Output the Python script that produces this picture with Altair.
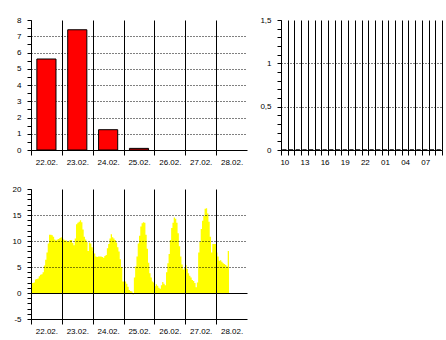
import json
import altair as alt
import pandas as pd

# ---------------- data ----------------
days = ["22.02.", "23.02.", "24.02.", "25.02.", "26.02.", "27.02.", "28.02."]
rain_daily = [5.6, 7.4, 1.25, 0.1, 0.0, 0.0, 0.0]

hours = ["10", "11", "12", "13", "14", "15", "16", "17", "18", "19", "20", "21",
         "22", "23", "00", "01", "02", "03", "04", "05", "06", "07", "08", "09"]
rain_hourly = [0, 0, 0, 0, 0, 0, 0, 0, 0, 0, 0, 0,
               0, 0, 0, 0, 0, 0, 0, 0, 0, 0, 0, 0]

temp_22 = [1.9, 1.9, 2.0, 2.6, 2.7, 2.8, 3.2, 3.5, 3.6, 4.0, 5.3, 6.4,
           7.8, 9.5, 11.2, 11.2, 11.1, 10.8, 10.3, 10.1, 10.3, 10.4, 10.6, 10.7]
temp_23 = [10.6, 10.3, 10.1, 10.1, 9.9, 9.9, 10.2, 10.2, 9.6, 9.2, 10.5, 13.2,
           13.5, 13.7, 14.0, 13.6, 12.2, 10.8, 10.3, 9.8, 8.1, 9.7, 9.5, 8.8]
temp_24 = [8.1, 7.6, 7.0, 6.9, 7.0, 7.0, 7.0, 6.9, 6.8, 7.1, 7.3, 8.6,
           9.4, 10.5, 11.3, 10.7, 10.5, 10.2, 9.7, 8.8, 8.0, 6.5, 5.0, 2.2]
temp_25 = [2.2, 2.2, 1.8, 1.2, 0.6, 0.4, 0.3, -0.3, 3.0, 5.1, 7.0, 9.5,
           11.0, 12.8, 13.4, 13.6, 13.5, 11.2, 8.5, 5.8, 3.8, 3.0, 2.2, 2.0]
temp_26 = [1.3, 1.7, 1.4, 1.0, 0.8, 1.5, 2.1, 1.8, 1.5, 4.0, 5.7, 7.5,
           10.2, 12.5, 13.5, 14.5, 14.3, 13.5, 11.5, 9.0, 7.0, 5.5, 4.5, 4.8]
temp_27 = [5.4, 4.6, 3.8, 3.3, 3.0, 2.5, 2.3, 1.9, 1.1, 2.0, 7.8, 9.8,
           12.3, 13.9, 14.8, 16.2, 16.3, 15.3, 13.7, 10.8, 7.8, 9.4, 9.4, 9.4]
temp_28 = [7.8, 7.0, 6.2, 6.3, 6.0, 5.7, 5.6, 5.4, 5.1, 8.1]

hourly_y_label_vals = [0, 0.5, 1, 1.5]
hourly_y_label_text = ["0", "0,5", "1", "1,5"]

# ---------------- layout / style ----------------
FONT = "Liberation Sans"
FS = 8
W_MAIN, H = 216, 130
W_HOUR = 161
DAY_PX = W_MAIN / 7
HOUR_PX = W_HOUR / 24
BAR_W = 0.62


def x_axis(values, label_expr, offset, zindex=0):
    return alt.Axis(values=values, labelExpr=label_expr, labelOffset=offset,
                    title=None, grid=True, gridColor="black", gridWidth=1,
                    tickSize=5, labelPadding=3, labelFlush=False,
                    labelOverlap=False, domainColor="black", tickColor="black",
                    zindex=zindex)


def y_axis(values, label_expr, grid_test, zindex=0, solid_test="false"):
    return alt.Axis(values=values, labelExpr=label_expr, title=None,
                    grid=True, gridColor="black", gridWidth=1,
                    gridDash={"condition": {"test": solid_test, "value": []}, "value": [1, 2]},
                    gridOpacity={"condition": {"test": grid_test, "value": 1}, "value": 0},
                    tickSize=4, labelPadding=6, labelOverlap=False,
                    domainColor="black", tickColor="black", zindex=zindex)


# ---------------- top-left: daily rain ----------------
df_day = pd.DataFrame({"i": list(range(len(days))), "day": days, "mm": rain_daily})
tl = alt.Chart(df_day).transform_filter("datum.mm > 0").transform_calculate(
    x0=f"datum.i + {(1 - BAR_W) / 2}", x1=f"datum.i + {(1 + BAR_W) / 2}"
).mark_rect(color="#ff0000", stroke="#000000", strokeWidth=1).encode(
    x=alt.X("x0:Q", scale=alt.Scale(domain=[0, 7], nice=False, zero=False),
            axis=x_axis(list(range(7)), f"{json.dumps(days)}[datum.value]", DAY_PX / 2)),
    x2="x1:Q",
    y=alt.Y("mm:Q", scale=alt.Scale(domain=[0, 8], nice=False),
            axis=y_axis([i * 0.5 for i in range(17)],
                        "datum.value % 1 === 0 ? datum.value : ''",
                        "datum.value % 1 === 0 && datum.value > 0 && datum.value < 8")),
    y2=alt.datum(0),
).properties(width=W_MAIN, height=H)

# ---------------- top-right: hourly rain ----------------
df_hour = pd.DataFrame({"i": list(range(24)), "hour": hours, "mm": rain_hourly})
lab_expr_h = f"(datum.value % 3 === 0 && datum.value < 24) ? {json.dumps(hours)}[datum.value] : ''"
ylab_map = " : ".join(
    f"datum.value === {v} ? '{t}'" for v, t in zip(hourly_y_label_vals, hourly_y_label_text)
) + " : ''"
tr = alt.Chart(df_hour).transform_calculate(
    x0=f"datum.i + {(1 - BAR_W) / 2}", x1=f"datum.i + {(1 + BAR_W) / 2}"
).mark_rect(color="#ff0000", stroke="#000000", strokeWidth=1).encode(
    x=alt.X("x0:Q", scale=alt.Scale(domain=[0, 24], nice=False, zero=False),
            axis=x_axis(list(range(25)), lab_expr_h, HOUR_PX / 2)),
    x2="x1:Q",
    y=alt.Y("mm:Q", scale=alt.Scale(domain=[0, 1.5], nice=False),
            axis=y_axis([round(i * 0.1, 1) for i in range(16)], ylab_map,
                        "datum.value === 0.5 || datum.value === 1")),
    y2=alt.datum(0),
).properties(width=W_HOUR, height=H)

# ---------------- bottom: temperature ----------------
temps = temp_22 + temp_23 + temp_24 + temp_25 + temp_26 + temp_27 + temp_28
df_t = pd.DataFrame({"h": list(range(len(temps) + 1)), "t": temps + [temps[-1]]})
bottom = alt.Chart(df_t).mark_area(color="#ffff00", interpolate="step-after").encode(
    x=alt.X("h:Q", scale=alt.Scale(domain=[0, 168], nice=False, zero=False),
            axis=x_axis([24 * i for i in range(7)],
                        f"{json.dumps(days)}[datum.value / 24]", DAY_PX / 2, zindex=1)),
    y=alt.Y("t:Q", scale=alt.Scale(domain=[-5, 20], nice=False),
            axis=y_axis(list(range(-5, 21)),
                        "datum.value % 5 === 0 ? datum.value : ''",
                        "datum.value >= 0 && datum.value < 20 && datum.value % 5 === 0",
                        zindex=1, solid_test="datum.value === 0")),
).properties(width=W_MAIN, height=H)

chart = alt.concat(
    tl, tr, bottom, columns=2, spacing={"row": 39, "column": 34}, bounds="flush"
).resolve_scale(x="independent", y="independent").properties(
    padding={"left": 12, "top": 16, "right": 0, "bottom": 0},
    background="white",
).configure_view(stroke=None).configure_axis(
    labelFont=FONT, labelFontSize=FS, labelColor="black"
)

chart.save("out.html", embed_options={"renderer": "svg", "actions": False})
